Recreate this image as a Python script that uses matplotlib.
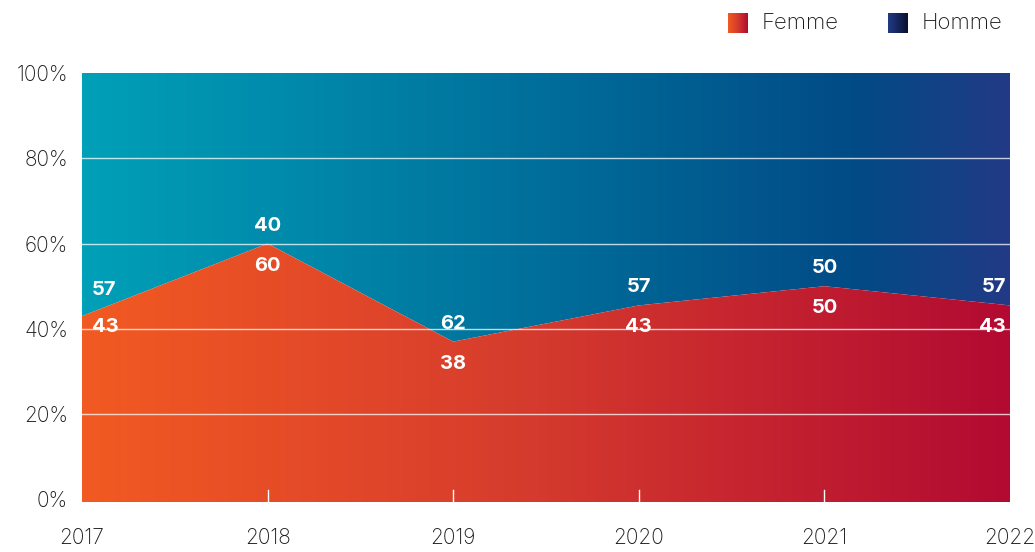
import matplotlib
matplotlib.use('Agg')
import matplotlib.pyplot as plt
import numpy as np
from matplotlib.colors import LinearSegmentedColormap

plt.rcParams['font.family'] = ['Inter', 'DejaVu Sans']

# data
years = [2017, 2018, 2019, 2020, 2021, 2022]
femme_share = [43, 60, 37, 45.5, 50, 45.5]   # drawn boundary (%)
femme_labels = [43, 60, 38, 43, 50, 43]
homme_labels = [57, 40, 62, 57, 50, 57]
y_ticks = [0, 20, 40, 60, 80, 100]

femme_cmap = LinearSegmentedColormap.from_list(
    'femme', [(0, '#F25A22'), (0.47, '#D63C2D'), (1, '#B20A32')])
homme_cmap = LinearSegmentedColormap.from_list(
    'homme', [(0, '#00A0B8'), (0.47, '#00719C'), (0.84, '#024A86'), (1, '#223A85')])

fig = plt.figure(figsize=(10.35, 5.52), dpi=100)
ax = fig.add_axes([82 / 1035, 1 - 502 / 552, 928 / 1035, 429 / 552])

x = np.array(years, dtype=float)
f = np.array(femme_share, dtype=float)
ymin, ymax = -0.6, 100
grad = np.linspace(0, 1, 512).reshape(1, -1)

# Homme on top (boundary -> 100), Femme at the bottom (0 -> boundary)
poly_h = ax.fill_between(x, f, 100, color='none', lw=0)
poly_f = ax.fill_between(x, ymin, f, color='none', lw=0)
im_h = ax.imshow(grad, cmap=homme_cmap, aspect='auto',
                 extent=[x[0], x[-1], ymin, ymax], zorder=1)
im_h.set_clip_path(poly_h.get_paths()[0], transform=ax.transData)
im_f = ax.imshow(grad, cmap=femme_cmap, aspect='auto',
                 extent=[x[0], x[-1], ymin, ymax], zorder=1)
im_f.set_clip_path(poly_f.get_paths()[0], transform=ax.transData)

# white gridlines and small inside ticks
for yv in y_ticks[1:-1]:
    ax.axhline(yv, color='white', lw=1, alpha=0.75, zorder=2)
for xv in years[1:-1]:
    ax.plot([xv, xv], [ymin, 2.2], color='white', lw=1, zorder=2)

ax.set_xlim(x[0], x[-1])
ax.set_ylim(ymin, ymax)
for s in ax.spines.values():
    s.set_visible(False)
ax.set_yticks(y_ticks)
ax.set_yticklabels([f'{v}%' for v in y_ticks])
ax.set_xticks(years)
ax.set_xticklabels([str(y) for y in years])
ax.tick_params(axis='both', length=0, labelsize=15, colors='#1a1a1a')
ax.tick_params(axis='x', pad=19)
ax.tick_params(axis='y', pad=10)
for t in ax.get_xticklabels() + ax.get_yticklabels():
    t.set_fontweight('light')

# value labels
lab_kw = dict(color='white', fontsize=14.5, fontweight='bold', va='center',
              textcoords='offset pixels', zorder=3)
for i, yr in enumerate(years):
    if i == 0:
        ha, dx, up, down = 'left', 10, 26, -11
    elif i == len(years) - 1:
        ha, dx, up, down = 'right', -4, 18, -22
    else:
        ha, dx, up, down = 'center', 0, 18, -22
    ax.annotate(str(homme_labels[i]), (yr, f[i]), xytext=(dx, up), ha=ha, **lab_kw)
    ax.annotate(str(femme_labels[i]), (yr, f[i]), xytext=(dx, down), ha=ha, **lab_kw)

# legend with gradient squares
sq_grad = np.linspace(0, 1, 64).reshape(1, -1)
leg_cmaps = [femme_cmap, LinearSegmentedColormap.from_list('hleg', ['#223A85', '#0A1030'])]
leg_names = ['Femme', 'Homme']
leg_x = [728, 888]
for cm, name, lx in zip(leg_cmaps, leg_names, leg_x):
    sq = fig.add_axes([lx / 1035, 1 - 33 / 552, 20 / 1035, 20 / 552])
    sq.imshow(sq_grad, cmap=cm, aspect='auto')
    sq.axis('off')
    fig.text((lx + 34) / 1035, 1 - 23 / 552, name, fontsize=16,
             color='#1a1a1a', va='center', ha='left', fontweight='light')

fig.savefig('out.png', dpi=100)
